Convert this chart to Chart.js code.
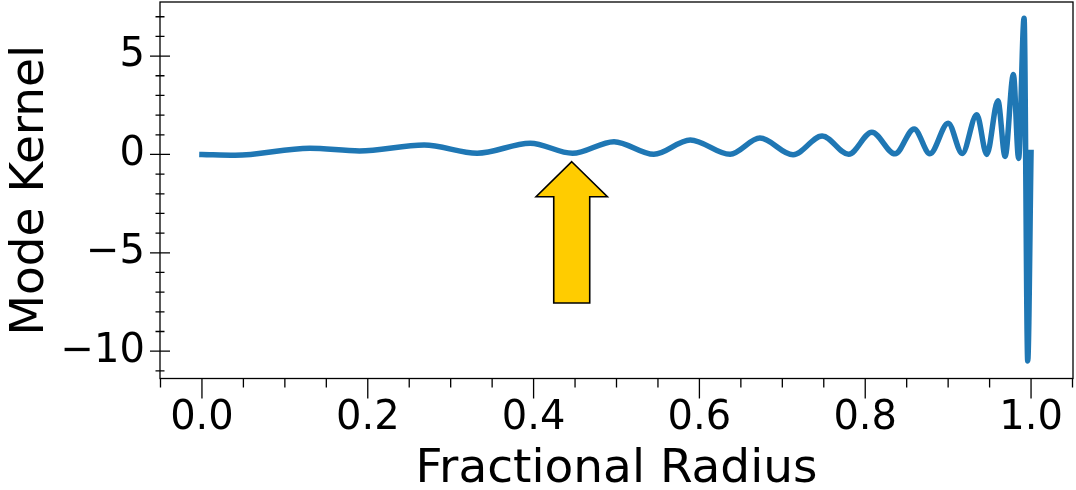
<!DOCTYPE html>
<html>
<head>
<meta charset="utf-8">
<script src="https://cdn.jsdelivr.net/npm/chart.js@4"></script>
<style>
  html, body { margin: 0; padding: 0; background: #fff; }
  #wrap { width: 1076px; height: 490px; }
</style>
</head>
<body>
<div id="wrap"><canvas id="c" width="1076" height="490"></canvas></div>
<script>
// Rotational mode kernel against fractional radius (turning points of the curve)
const radius = [0, 0.04, 0.13, 0.19, 0.268, 0.332, 0.396, 0.447, 0.497, 0.545,
                0.589, 0.637, 0.673, 0.713, 0.748, 0.780, 0.808, 0.836, 0.859, 0.878,
                0.900, 0.917, 0.9345, 0.9466, 0.960, 0.9687, 0.9787, 0.985, 0.9916, 0.996, 1.0];
const kernel = [0, -0.04, 0.32, 0.18, 0.48, 0.06, 0.57, 0.06, 0.65, 0.01,
                0.74, 0.01, 0.83, -0.02, 0.94, 0.01, 1.13, 0.03, 1.30, 0.04,
                1.59, 0.05, 2.02, 0.0, 2.73, -0.1, 4.06, -0.2, 6.92, -10.5, 0.1];

const xTickValues = [0, 0.2, 0.4, 0.6, 0.8, 1.0];
const yTickValues = [-10, -5, 0, 5];
const xRange = [-0.0506, 1.0506];
const yRange = [-11.39, 7.75];

// Highlight arrow, in data units
const arrowSpec = { x: 0.446, tipY: -0.37, headBaseY: -2.15, tailY: -7.55, headHalf: 0.043, shaftHalf: 0.0217 };

Chart.defaults.font.family = "'DejaVu Sans', sans-serif";
Chart.defaults.color = '#000';

function fmtY(v) { return v < 0 ? '\u2212' + Math.abs(v) : String(v); }

// Frame plus major/minor tick marks
const axesDecor = {
  id: 'axesDecor',
  afterDraw(chart) {
    const { ctx, chartArea: a, scales: { x, y } } = chart;
    ctx.save();
    ctx.strokeStyle = '#000';
    ctx.lineWidth = 1.3;
    ctx.strokeRect(a.left, a.top, a.right - a.left, a.bottom - a.top);
    ctx.beginPath();
    for (let i = -1; i <= 21; i++) {
      const px = x.getPixelForValue(i * 0.05);
      if (px < a.left - 1 || px > a.right + 1) continue;
      const len = i % 4 === 0 ? 20 : 9;
      ctx.moveTo(px, a.bottom);
      ctx.lineTo(px, a.bottom + len);
    }
    for (let v = -11; v <= 7; v++) {
      const py = y.getPixelForValue(v);
      const half = v % 5 === 0 ? 10 : 4.5;
      ctx.moveTo(a.left - half, py);
      ctx.lineTo(a.left + half, py);
    }
    ctx.stroke();
    ctx.restore();
  }
};

// Block arrow pointing up at the curve
const arrowMark = {
  id: 'arrowMark',
  afterDatasetsDraw(chart) {
    const { ctx, scales: { x, y } } = chart;
    const cx = x.getPixelForValue(arrowSpec.x);
    const tip = y.getPixelForValue(arrowSpec.tipY);
    const base = y.getPixelForValue(arrowSpec.headBaseY);
    const tail = y.getPixelForValue(arrowSpec.tailY);
    const hh = x.getPixelForValue(arrowSpec.x + arrowSpec.headHalf) - cx;
    const sh = x.getPixelForValue(arrowSpec.x + arrowSpec.shaftHalf) - cx;
    ctx.save();
    ctx.beginPath();
    ctx.moveTo(cx, tip);
    ctx.lineTo(cx + hh, base);
    ctx.lineTo(cx + sh, base);
    ctx.lineTo(cx + sh, tail);
    ctx.lineTo(cx - sh, tail);
    ctx.lineTo(cx - sh, base);
    ctx.lineTo(cx - hh, base);
    ctx.closePath();
    ctx.fillStyle = '#ffcc00';
    ctx.fill();
    ctx.lineWidth = 1.6;
    ctx.lineJoin = 'miter';
    ctx.strokeStyle = '#000';
    ctx.stroke();
    ctx.restore();
  }
};

new Chart(document.getElementById('c'), {
  type: 'line',
  data: {
    datasets: [{
      data: radius.map((r, i) => ({ x: r, y: kernel[i] })),
      borderColor: '#1f77b4',
      borderWidth: 5.5,
      pointRadius: 0,
      cubicInterpolationMode: 'monotone',
      borderCapStyle: 'square',
      borderJoinStyle: 'round',
      fill: false
    }]
  },
  options: {
    responsive: false,
    animation: false,
    devicePixelRatio: 1,
    layout: { padding: { top: 2, right: 3, left: 0, bottom: 0 } },
    plugins: { legend: { display: false }, tooltip: { enabled: false } },
    scales: {
      x: {
        type: 'linear',
        min: xRange[0],
        max: xRange[1],
        afterBuildTicks: s => { s.ticks = xTickValues.map(v => ({ value: v })); },
        afterFit: s => { s.height = 111.5; s.paddingLeft = 0; s.paddingRight = 0; },
        grid: { display: false, drawTicks: false, tickLength: 0 },
        border: { display: false },
        ticks: { padding: 16.5, color: '#000', font: { size: 40 }, maxRotation: 0, autoSkip: false,
                 callback: v => v.toFixed(1) },
        title: { display: true, text: 'Fractional Radius', color: '#000',
                 font: { size: 47, lineHeight: 0.85 }, padding: 0 }
      },
      y: {
        type: 'linear',
        min: yRange[0],
        max: yRange[1],
        afterBuildTicks: s => { s.ticks = yTickValues.map(v => ({ value: v })); },
        afterFit: s => { s.width = 160; s.paddingTop = 0; s.paddingBottom = 0; },
        grid: { display: false, drawTicks: false, tickLength: 0 },
        border: { display: false },
        ticks: { padding: 15, color: '#000', font: { size: 40 }, autoSkip: false, callback: fmtY },
        title: { display: true, text: 'Mode Kernel', color: '#000',
                 font: { size: 47, lineHeight: 0.85 }, padding: { top: 11, bottom: 0 } }
      }
    }
  },
  plugins: [axesDecor, arrowMark]
});
</script>
</body>
</html>
